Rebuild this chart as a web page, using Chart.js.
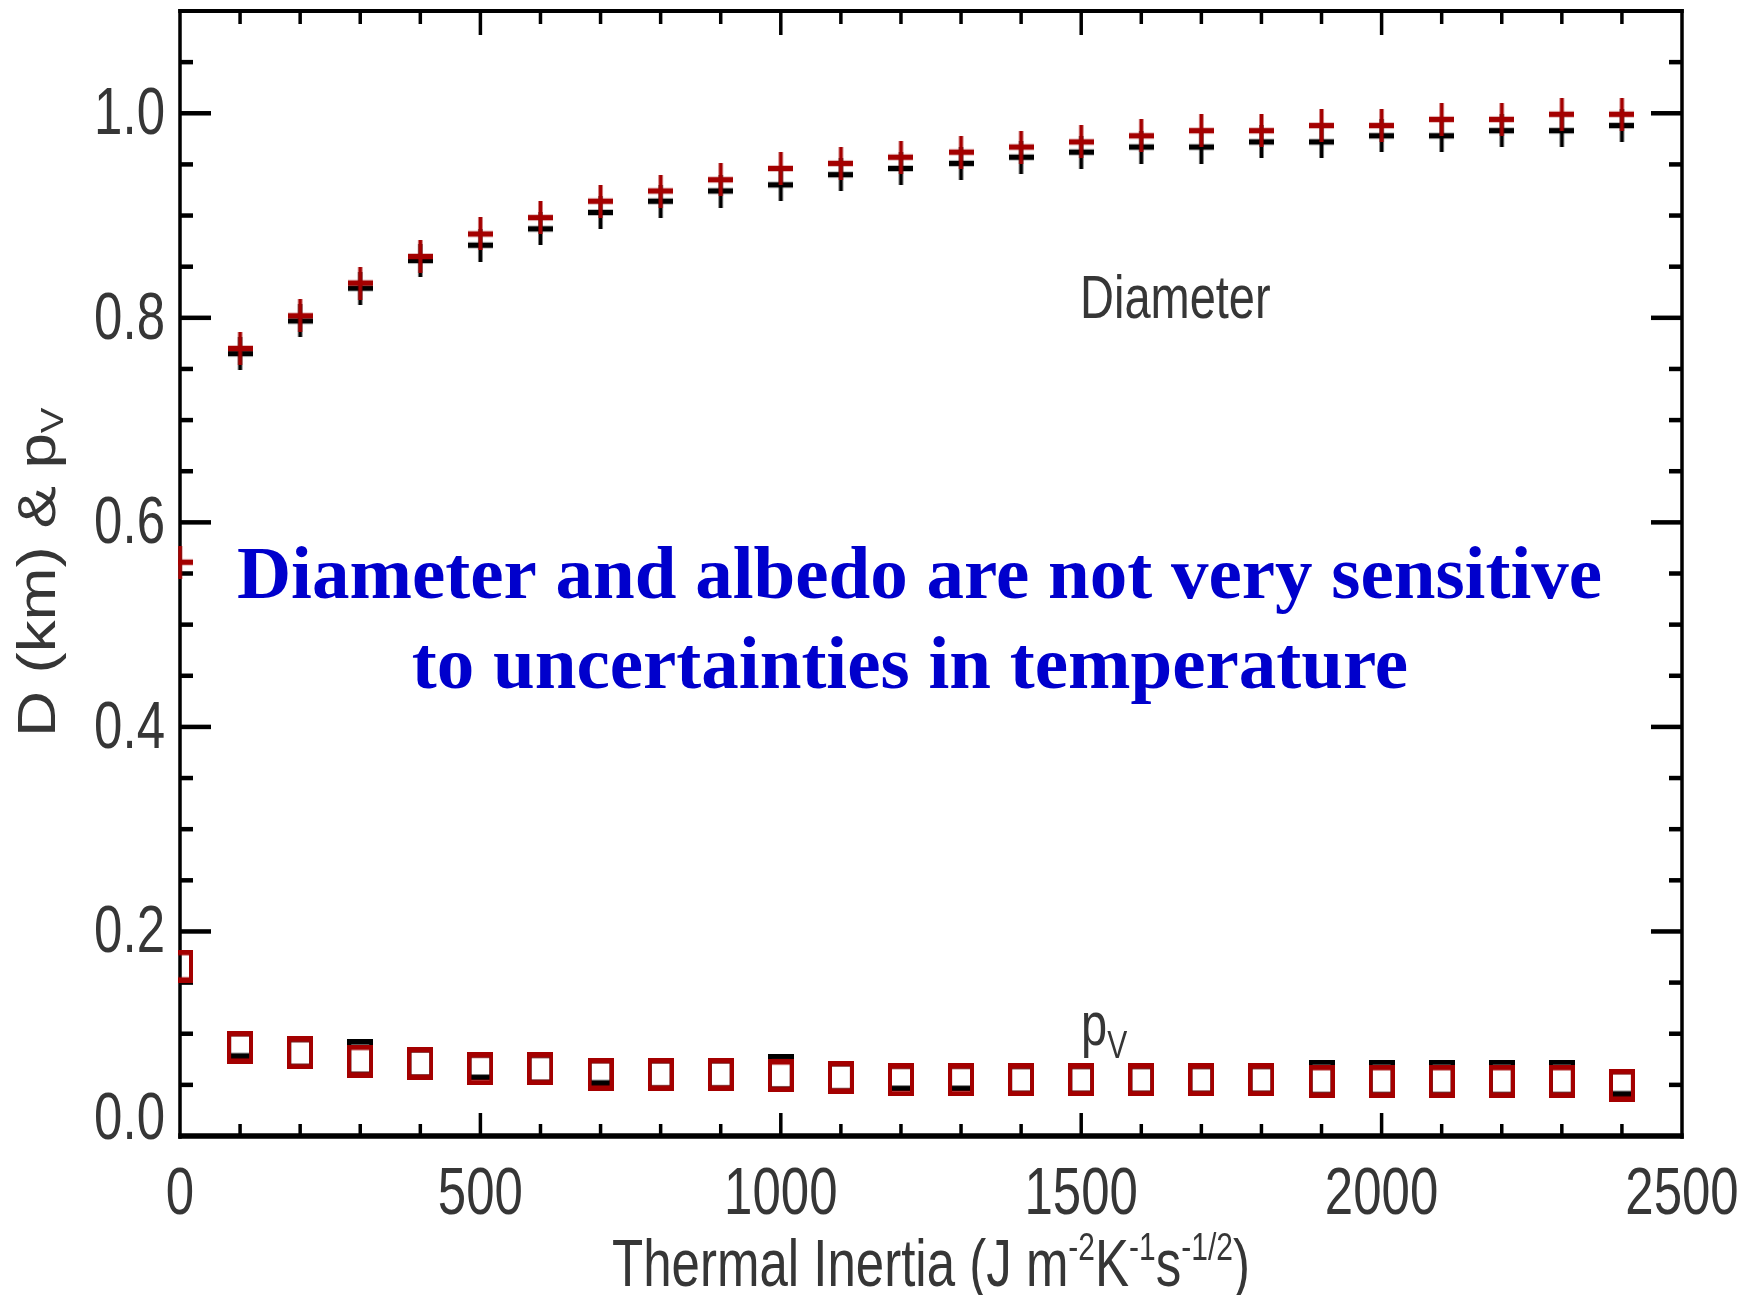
<!DOCTYPE html>
<html>
<head>
<meta charset="utf-8">
<script src="https://cdn.jsdelivr.net/npm/chart.js@4/dist/chart.umd.min.js"></script>
<style>
html,body{margin:0;padding:0;background:#fff;}
#wrap{width:1743px;height:1295px;position:relative;}
</style>
</head>
<body>
<div id="wrap"><canvas id="c"></canvas></div>
<script>
// ---------------- data ----------------
const thermalInertia = [0,100,200,300,400,500,600,700,800,900,1000,1100,1200,1300,1400,1500,1600,1700,1800,1900,2000,2100,2200,2300,2400];
const diameterRed   = [0.561,0.770,0.802,0.834,0.860,0.882,0.898,0.914,0.924,0.935,0.946,0.951,0.957,0.962,0.967,0.972,0.978,0.983,0.983,0.988,0.988,0.994,0.994,0.999,0.999];
const diameterBlack = [null,0.765,0.797,0.829,0.856,0.871,0.887,0.903,0.914,0.924,0.930,0.940,0.946,0.951,0.957,0.962,0.967,0.967,0.972,0.972,0.978,0.978,0.983,0.983,0.988];
const albedoRed     = [0.166,0.0867,0.0812,0.0733,0.0709,0.0657,0.0657,0.0603,0.0603,0.0603,0.0590,0.0574,0.0549,0.0549,0.0549,0.0549,0.0549,0.0549,0.0549,0.0535,0.0535,0.0535,0.0535,0.0535,0.0496];
const albedoBlack   = [null,0.0894,0.0812,0.0760,0.0709,0.0684,0.0657,0.0630,0.0603,0.0603,0.0617,0.0574,0.0576,0.0576,0.0549,0.0549,0.0549,0.0549,0.0549,0.0562,0.0562,0.0562,0.0562,0.0562,0.0523];

const xMin = 0, xMax = 2500, yMin = 0, yMax = 1.1;
const xTickValues = [0,500,1000,1500,2000,2500];
const xTickLabels = ['0','500','1000','1500','2000','2500'];
const yTickValues = [0,0.2,0.4,0.6,0.8,1.0];
const yTickLabels = ['0.0','0.2','0.4','0.6','0.8','1.0'];
const xMinorStep = 100, yMinorStep = 0.05;

const xTitleParts = [['Thermal Inertia (J m',0],['-2',1],['K',0],['-1',1],['s',0],['-1/2',1],[')',0]];
const yTitleParts = [['D (km) & p',0],['V',-1]];
const annotationLines = ['Diameter and albedo are not very sensitive','to uncertainties in temperature'];
const labelDiameter = 'Diameter';
const labelAlbedo = [['p',0],['V',-1]];

// which edge of each black square peeks out from under the red one (style only)
const albedoBlackMarker = ['base','short','base','tall','base','short','base','short','base','base','tall','base','short','short','base','base','base','base','base','tall','tall','tall','tall','tall','short'];

// ---------------- styles ----------------
const RED = '#A40000', BLACK = '#000000', BLUE = '#0000CC', TXT = '#363636';
const SANS = '"Liberation Sans", Arial, sans-serif';

function makePlus(color){
  const c = document.createElement('canvas'); c.width = 25; c.height = 33;
  const g = c.getContext('2d'); g.fillStyle = color;
  g.fillRect(10.5, 0, 4, 33); g.fillRect(0, 13.75, 25, 5.5);
  return c;
}
function makeSquare(color, h){
  const c = document.createElement('canvas'); c.width = 26; c.height = Math.ceil(h);
  const g = c.getContext('2d'); g.fillStyle = color;
  g.fillRect(0,0,26,5.5); g.fillRect(0,h-5.5,26,5.5); g.fillRect(0,0,4,h); g.fillRect(22,0,4,h);
  return c;
}
function pts(xs, ys){ return xs.map((x,i)=>({x:x, y:ys[i]})); }

const blackSquares = {base: makeSquare(BLACK,33), short: makeSquare(BLACK,28), tall: makeSquare(BLACK,38)};

const CLIP = {left:2, top:0, right:0, bottom:0};

// draw rich text (main + super/sub scripts) with a stretch
function drawRich(ctx, parts, x, y, size, smallSize, sx, sy, align, supShift, subShift, color){
  ctx.save();
  ctx.translate(x, y);
  ctx.scale(sx, sy);
  ctx.fillStyle = color;
  ctx.textBaseline = 'alphabetic';
  ctx.textAlign = 'left';
  let total = 0; const ws = [];
  for (const [t,k] of parts){ ctx.font = (k===0?size:smallSize)+'px '+SANS; const w = ctx.measureText(t).width; ws.push(w); total += w; }
  let cx = align==='center' ? -total/2 : (align==='right' ? -total : 0);
  parts.forEach(([t,k],i)=>{
    ctx.font = (k===0?size:smallSize)+'px '+SANS;
    const dy = k===1 ? -supShift : (k===-1 ? subShift : 0);
    ctx.fillText(t, cx, dy);
    cx += ws[i];
  });
  ctx.restore();
}

const decor = {
  id: 'decor',
  beforeDatasetsDraw(chart){
    const {ctx, chartArea:a, scales:{x, y}} = chart;
    ctx.save();
    ctx.fillStyle = BLACK;
    // frame
    ctx.fillRect(a.left-1.75, a.top-2, a.right-a.left+3.5, 4);      // top
    ctx.fillRect(a.left-1.75, a.bottom-2.75, a.right-a.left+3.5, 5.5); // bottom
    ctx.fillRect(a.left-1.75, a.top-2, 3.5, a.bottom-a.top+4.75);   // left
    ctx.fillRect(a.right-1.75, a.top-2, 3.5, a.bottom-a.top+4.75);  // right
    // x ticks (inward, top and bottom)
    for (let v = xMin + xMinorStep; v < xMax - 1e-9; v += xMinorStep){
      const px = x.getPixelForValue(v);
      const major = xTickValues.some(t => Math.abs(t - v) < 1e-6);
      const len = major ? 23 : 12;
      ctx.fillRect(px-1.75, a.bottom-len, 3.5, len);
      ctx.fillRect(px-1.75, a.top, 3.5, len+1);
    }
    // y ticks (inward, left and right)
    for (let i = 1; yMin + i*yMinorStep < yMax - 1e-9; i++){
      const v = yMin + i*yMinorStep;
      const py = y.getPixelForValue(v);
      const major = yTickValues.some(t => Math.abs(t - v) < 1e-6);
      const len = major ? 31 : 13;
      ctx.fillRect(a.left, py-2.25, len, 4.5);
      ctx.fillRect(a.right-len, py-2.25, len, 4.5);
    }
    ctx.restore();
  },
  afterDatasetsDraw(chart){
    const {ctx, chartArea:a, scales:{x, y}} = chart;
    ctx.save();
    const F = 51, SY = 1.3;
    const capH = 0.716*F*SY;
    // y tick labels
    yTickValues.forEach((v,i)=>{
      const py = y.getPixelForValue(v);
      let base = py + capH/2 - 3;
      if (i === 0) base = a.bottom + 3;
      drawRich(ctx, [[yTickLabels[i],0]], a.left-15, base, F, F, 1, SY, 'right', 0, 0, TXT);
    });
    // x tick labels
    xTickValues.forEach((v,i)=>{
      const px = x.getPixelForValue(v);
      drawRich(ctx, [[xTickLabels[i],0]], px, a.bottom+78, F, F, 1, SY, 'center', 0, 0, TXT);
    });
    // x title
    drawRich(ctx, xTitleParts, (a.left+a.right)/2, 1286, F, 30, 1, SY, 'center', 20, 0, TXT);
    // y title (rotated)
    ctx.save();
    ctx.translate(55, 737);
    ctx.rotate(-Math.PI/2);
    drawRich(ctx, yTitleParts, 0, 0, 53, 32, 1.2, 1, 'left', 0, 8, TXT);
    ctx.restore();
    // in-plot labels
    drawRich(ctx, [[labelDiameter,0]], 1080, 318, 47, 47, 1, 1.28, 'left', 0, 0, TXT);
    drawRich(ctx, labelAlbedo, 1081, 1045, 47, 30, 1, 1.28, 'left', 0, 10, TXT);
    // blue annotation
    ctx.fillStyle = BLUE;
    ctx.font = 'bold 75px "Liberation Serif", "Times New Roman", serif';
    ctx.textAlign = 'center';
    ctx.textBaseline = 'alphabetic';
    ctx.fillText(annotationLines[0], 919.5, 598);
    ctx.fillText(annotationLines[1], 910, 688);
    ctx.restore();
  }
};

new Chart(document.getElementById('c'), {
  type: 'scatter',
  data: {
    datasets: [
      {label:'Diameter (red)', data: pts(thermalInertia, diameterRed), pointStyle: makePlus(RED), pointRadius: 3, order: 0, clip: CLIP},
      {label:'pV (red)', data: pts(thermalInertia, albedoRed), pointStyle: makeSquare(RED,33), pointRadius: 3, order: 1, clip: CLIP},
      {label:'Diameter (black)', data: pts(thermalInertia, diameterBlack), pointStyle: makePlus(BLACK), pointRadius: 3, order: 2, clip: CLIP},
      {label:'pV (black)', data: pts(thermalInertia, albedoBlack), pointStyle: (c) => blackSquares[albedoBlackMarker[c.dataIndex]] || blackSquares.base, pointRadius: 3, order: 3, clip: CLIP}
    ]
  },
  options: {
    responsive: true,
    maintainAspectRatio: false,
    animation: false,
    events: [],
    devicePixelRatio: 1,
    layout: {padding: {left: 180, right: 61, top: 11, bottom: 159}},
    plugins: {legend: {display: false}, tooltip: {enabled: false}},
    scales: {
      x: {type: 'linear', min: xMin, max: xMax, display: false},
      y: {type: 'linear', min: yMin, max: yMax, display: false}
    }
  },
  plugins: [decor]
});
</script>
</body>
</html>
